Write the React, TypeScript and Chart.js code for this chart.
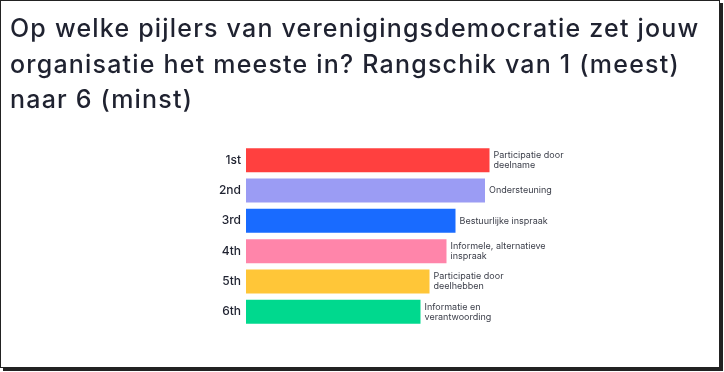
import React, { useEffect, useRef } from "react";
import { Chart, registerables } from "chart.js";

Chart.register(...registerables);

const titleLines = [
  "Op welke pijlers van verenigingsdemocratie zet jouw",
  "organisatie het meeste in? Rangschik van 1 (meest)",
  "naar 6 (minst)",
];
const ranks = ["1st", "2nd", "3rd", "4th", "5th", "6th"];
const scores = [4.87, 4.78, 4.19, 4.01, 3.67, 3.49];
const itemLabels = [
  ["Participatie door", "deelname"],
  ["Ondersteuning"],
  ["Bestuurlijke inspraak"],
  ["Informele, alternatieve", "inspraak"],
  ["Participatie door", "deelhebben"],
  ["Informatie en", "verantwoording"],
];
const barColors = ["#FF403F", "#9B9CF4", "#196BFF", "#FF85AA", "#FFC638", "#00D98E"];

const FONT = "Inter, 'Noto Sans', sans-serif";

const titlePlugin = {
  id: "bigTitle",
  afterDraw(chart: any) {
    const ctx = chart.ctx;
    ctx.save();
    ctx.font = `500 25px ${FONT}`;
    (ctx as any).letterSpacing = "1.2px";
    ctx.fillStyle = "#1f2230";
    ctx.textAlign = "left";
    ctx.textBaseline = "alphabetic";
    titleLines.forEach((t, i) => ctx.fillText(t, 10, 37 + i * 35.7));
    (ctx as any).letterSpacing = "0px";
    ctx.restore();
  },
};

const labelPlugin = {
  id: "itemLabels",
  afterDatasetsDraw(chart: any) {
    const ctx = chart.ctx;
    const meta = chart.getDatasetMeta(0);
    ctx.save();
    ctx.font = `400 9px ${FONT}`;
    ctx.fillStyle = "#3a3d48";
    ctx.textAlign = "left";
    ctx.textBaseline = "middle";
    meta.data.forEach((bar: any, i: number) => {
      const lines = itemLabels[i];
      const lh = 10;
      const start = bar.y - ((lines.length - 1) * lh) / 2;
      lines.forEach((t, j) => ctx.fillText(t, bar.x + 4, start + j * lh));
    });
    ctx.restore();
  },
};

export default function App() {
  const ref = useRef<HTMLCanvasElement | null>(null);
  useEffect(() => {
    document.body.style.margin = "0";
    const chart = new Chart(ref.current!, {
      type: "bar",
      data: {
        labels: ranks,
        datasets: [
          {
            data: scores,
            backgroundColor: barColors,
            borderWidth: 0,
            barPercentage: 0.88,
            categoryPercentage: 0.9,
          },
        ],
      },
      options: {
        indexAxis: "y",
        animation: false,
        responsive: false,
        layout: { padding: { left: 10, right: 178, top: 145, bottom: 45 } },
        plugins: {
          legend: { display: false },
          tooltip: { enabled: false },
          title: { display: false },
        },
        scales: {
          x: { display: false, min: 0, max: 6 },
          y: {
            grid: { display: false, drawTicks: false },
            border: { display: false },
            ticks: { color: "#1f2230", font: { family: FONT, size: 12, weight: "500" }, padding: 5 },
            afterFit: (s: any) => {
              s.width = 236;
            },
          },
        },
      },
      plugins: [labelPlugin, titlePlugin],
    });
    return () => chart.destroy();
  }, []);
  return (
    <div style={{ position: "relative", width: 724, height: 372, background: "#fff" }}>
      <div
        style={{
          position: "absolute",
          left: 0,
          top: 0,
          width: 718,
          height: 366,
          border: "1px solid #222",
          boxShadow: "3px 3px 0 #222",
        }}
      />
      <canvas ref={ref} width={724} height={372} style={{ position: "absolute", left: 0, top: 0 }} />
    </div>
  );
}
